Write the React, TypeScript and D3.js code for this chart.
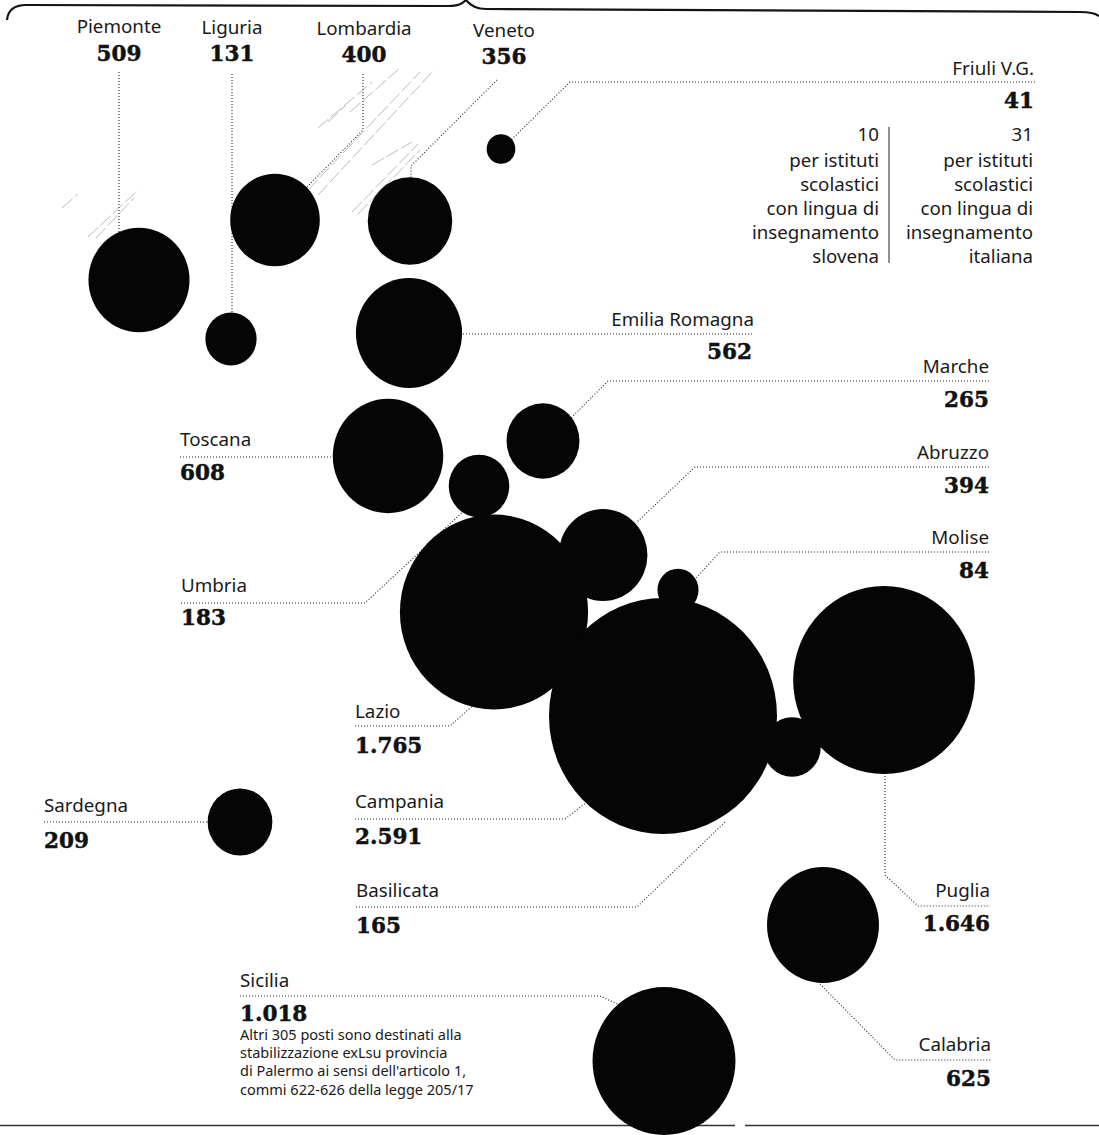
import React from "react";
import * as d3 from "d3";

const regions = ["Piemonte","Liguria","Lombardia","Veneto","Friuli V.G.","Emilia Romagna","Toscana","Marche","Umbria","Lazio","Abruzzo","Molise","Campania","Puglia","Basilicata","Calabria","Sicilia","Sardegna"];
const posts = [509,131,400,356,41,562,608,265,183,1765,394,84,2591,1646,165,625,1018,209];
const friuliBreakdown = [
  { n: "10", lines: ["per istituti","scolastici","con lingua di","insegnamento","slovena"] },
  { n: "31", lines: ["per istituti","scolastici","con lingua di","insegnamento","italiana"] },
];
const sicilyNote = ["Altri 305 posti sono destinati alla","stabilizzazione exLsu provincia","di Palermo ai sensi dell'articolo 1,","commi 622-626 della legge 205/17"];

// Layout of the cartogram, kept apart from the data
const layout: Record<string, any> = {
  "Piemonte": { c:[139,280], a:"middle", x:119, yn:33, yv:61, path:[[119,72],[119,232]] },
  "Liguria": { c:[231,339], a:"middle", x:232, yn:34, yv:61, path:[[232,74],[232,314]] },
  "Lombardia": { c:[275,220], a:"middle", x:364, yn:35, yv:62, path:[[363,74],[363,130],[307,187]] },
  "Veneto": { c:[410,221], a:"middle", x:504, yn:37, yv:64, path:[[497,80],[411,166],[411,179]] },
  "Friuli V.G.": { c:[501,149], a:"end", x:1034, yn:75, yv:108, path:[[1035,82],[570,82],[511,140]] },
  "Emilia Romagna": { c:[409,333], a:"end", x:754, yn:326, yv:359, xv:752, path:[[463,334],[752,334]] },
  "Toscana": { c:[388,456], a:"start", x:180, yn:446, yv:480, path:[[180,457],[333,457]] },
  "Marche": { c:[543,441], a:"end", x:989, yn:373, yv:407, path:[[989,381],[608,381],[570,419]] },
  "Umbria": { c:[479,486], a:"start", x:181, yn:592, yv:625, path:[[181,603],[365,603],[468,507]] },
  "Lazio": { c:[494,612], a:"start", x:355, yn:718, yv:753, path:[[355,726],[450,726],[478,701]] },
  "Abruzzo": { c:[603,555], a:"end", x:989, yn:459, yv:493, path:[[989,467],[695,467],[637,522]] },
  "Molise": { c:[678,590], a:"end", x:989, yn:544, yv:578, path:[[989,552],[720,552],[685,590]] },
  "Campania": { c:[663,716], a:"start", x:355, yn:808, yv:844, path:[[355,819],[565,819],[608,786]] },
  "Puglia": { c:[884,680], a:"end", x:990, yn:897, yv:931, path:[[885,770],[885,875],[918,906],[990,906]] },
  "Basilicata": { c:[792,747], a:"start", x:356, yn:897, yv:933, path:[[356,907],[637,907],[725,822]] },
  "Calabria": { c:[823,925], a:"end", x:991, yn:1051, yv:1086, path:[[820,984],[895,1060],[991,1060]] },
  "Sicilia": { c:[664,1061], a:"start", x:240, yn:987, yv:1021, path:[[240,996],[600,996],[622,1006]] },
  "Sardegna": { c:[240,822], a:"start", x:44, yn:812, yv:848, path:[[44,822],[210,822]] },
};
const hatches = [[62,208,78,194],[88,237,138,190],[96,238,134,198],[318,128,372,82],[328,122,345,106],[350,112,400,68],[308,190,420,72],[318,195,434,70],[352,212,418,144],[358,214,420,150],[372,165,412,142]];

const NAME_FONT = "'Noto Sans', 'Open Sans', sans-serif";
const VALUE_FONT = "'DejaVu Serif', serif";

export default function App() {
  const r = d3.scaleSqrt().domain([0, 2591]).range([0, 114]);
  const fmt = d3.formatLocale({ decimal: ",", thousands: ".", grouping: [3], currency: ["", ""] }).format(",d");
  const line = d3.line();
  const ink = "#141414";
  return (
    <svg width={1099} height={1135} viewBox="0 0 1099 1135" style={{ position: "absolute", left: 0, top: 0, background: "#fff" }}>
      <path d="M7,20 C8,10 14,5 26,5 L448,6 C458,6 462,4 466,0 C470,5 476,9 486,9 L1080,12 C1090,12 1095,13 1099,16" fill="none" stroke={ink} strokeWidth={2.2} />
      <line x1={0} x2={735} y1={1125.5} y2={1125.5} stroke="#333" strokeWidth={1.6} />
      <line x1={745} x2={1099} y1={1125.5} y2={1125.5} stroke="#333" strokeWidth={1.6} />
      <g stroke="#aaa" strokeWidth={0.8}>
        {hatches.map((h, i) => <line key={i} x1={h[0]} y1={h[1]} x2={h[2]} y2={h[3]} strokeDasharray="14 3" />)}
      </g>
      {regions.map(n => (
        <path key={n} d={line(layout[n].path) ?? ""} fill="none" stroke="#222" strokeWidth={1.1} strokeDasharray="1 2" />
      ))}
      {regions.map((n, i) => (
        <ellipse key={n} cx={layout[n].c[0]} cy={layout[n].c[1]} rx={r(posts[i])} ry={r(posts[i]) * 1.035} fill="#050505" />
      ))}
      {regions.map((n, i) => {
        const l = layout[n];
        return (
          <g key={n} textAnchor={l.a}>
            <text x={l.x} y={l.yn} fontFamily={NAME_FONT} fontSize={18.8} fill="#1a1a1a">{n}</text>
            <text x={l.xv ?? l.x} y={l.yv} fontFamily={VALUE_FONT} fontWeight={700} fontSize={21.5} fill="#111" stroke="#111" strokeWidth={0.5}>{fmt(posts[i])}</text>
          </g>
        );
      })}
      {friuliBreakdown.map((col, ci) => {
        const x = ci === 0 ? 879 : 1033;
        return (
          <g key={ci} textAnchor="end" fontFamily={NAME_FONT} fontSize={18.7} fill="#1a1a1a">
            <text x={x} y={141}>{col.n}</text>
            {col.lines.map((t, i) => <text key={i} x={x} y={167 + i * 24}>{t}</text>)}
          </g>
        );
      })}
      <line x1={889} x2={889} y1={127} y2={263} stroke="#444" strokeWidth={1.2} />
      <g fontFamily={NAME_FONT} fontSize={14.5} fill="#1a1a1a">
        {sicilyNote.map((t, i) => <text key={i} x={240} y={1040 + i * 18.2}>{t}</text>)}
      </g>
    </svg>
  );
}
